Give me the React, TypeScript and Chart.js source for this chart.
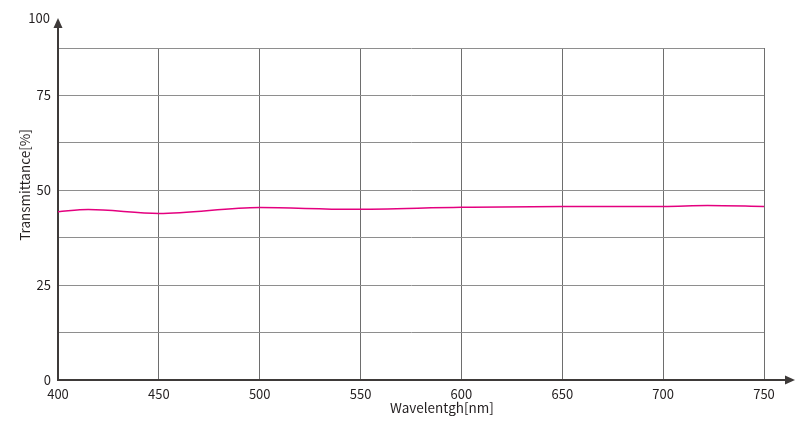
import React, { useEffect, useRef } from "react";
import { Chart, registerables } from "chart.js";

Chart.register(...registerables);

const wavelengths = [400, 415, 450, 500, 545, 600, 650, 700, 722, 750];
const transmittance = [44.35, 44.95, 43.9, 45.45, 45.0, 45.5, 45.75, 45.75, 46.0, 45.75];
const yTickLabels = ["0", "25", "50", "75"];
const yTopLabel = "100";
const xTitle = "Wavelentgh[nm]";
const yTitle = "Transmittance[%]";

const FONT = "'Noto Sans CJK JP', 'Noto Sans', sans-serif";
const TEXT = "#231f20";
const AXIS = "#3e3a39";

export default function App() {
  const ref = useRef<HTMLCanvasElement | null>(null);
  useEffect(() => {
    if (!ref.current) return;
    const decor = {
      id: "decor",
      afterDraw(chart: any) {
        const ctx = chart.ctx;
        const a = chart.chartArea;
        ctx.save();
        ctx.strokeStyle = AXIS;
        ctx.fillStyle = AXIS;
        ctx.lineWidth = 2;
        // y arrow
        ctx.beginPath();
        ctx.moveTo(a.left, a.top);
        ctx.lineTo(a.left, 26);
        ctx.stroke();
        ctx.beginPath();
        ctx.moveTo(a.left, 18);
        ctx.lineTo(a.left - 4.5, 28);
        ctx.lineTo(a.left + 4.5, 28);
        ctx.closePath();
        ctx.fill();
        // x arrow
        ctx.beginPath();
        ctx.moveTo(a.right, a.bottom);
        ctx.lineTo(788, a.bottom);
        ctx.stroke();
        ctx.beginPath();
        ctx.moveTo(795, a.bottom);
        ctx.lineTo(785, a.bottom - 4.5);
        ctx.lineTo(785, a.bottom + 4.5);
        ctx.closePath();
        ctx.fill();
        // texts
        ctx.fillStyle = TEXT;
        ctx.font = `13px ${FONT}`;
        ctx.textAlign = "right";
        ctx.textBaseline = "middle";
        ctx.fillText(yTopLabel, 50, 18);
        ctx.font = `13.5px ${FONT}`;
        ctx.textAlign = "center";
        ctx.fillText(xTitle, 442, 408);
        ctx.translate(25, 185);
        ctx.rotate(-Math.PI / 2);
        ctx.fillText(yTitle, 0, 0);
        ctx.restore();
      },
    };
    const chart = new Chart(ref.current, {
      type: "line",
      data: {
        datasets: [
          {
            data: wavelengths.map((w, i) => ({ x: w, y: transmittance[i] })),
            borderColor: "#e4007f",
            borderWidth: 1.5,
            pointRadius: 0,
            tension: 0.4,
            cubicInterpolationMode: "monotone",
            fill: false,
          },
        ],
      },
      options: {
        animation: false,
        responsive: false,
        events: [],
        layout: { padding: { left: 0, top: 48, right: 35, bottom: 0 } },
        plugins: { legend: { display: false }, tooltip: { enabled: false } },
        scales: {
          x: {
            type: "linear",
            min: 400,
            max: 750,
            afterFit: (s: any) => { s.height = 51; },
            ticks: {
              stepSize: 50,
              padding: 6,
              color: TEXT,
              font: { size: 13, family: FONT },
              maxRotation: 0,
            },
            grid: { color: "#6e6e6e", lineWidth: 1, drawTicks: false },
            border: { color: AXIS, width: 2 },
          },
          y: {
            type: "linear",
            min: 0,
            max: 87.5,
            afterFit: (s: any) => { s.width = 58; },
            afterBuildTicks: (s: any) => {
              s.ticks = [0, 12.5, 25, 37.5, 50, 62.5, 75, 87.5].map((v) => ({ value: v }));
            },
            ticks: {
              padding: 7,
              color: TEXT,
              font: { size: 13, family: FONT },
              callback: (v: any) => {
                const i = [0, 25, 50, 75].indexOf(Number(v));
                return i >= 0 ? yTickLabels[i] : "";
              },
            },
            grid: { color: "#8e8e8e", lineWidth: 1, drawTicks: false },
            border: { color: AXIS, width: 2 },
          },
        },
      },
      plugins: [decor],
    });
    return () => chart.destroy();
  }, []);
  return (
    <div style={{ position: "absolute", left: 0, top: 0, width: 799, height: 431, background: "#fff" }}>
      <canvas ref={ref} width={799} height={431} style={{ width: 799, height: 431 }} />
    </div>
  );
}
